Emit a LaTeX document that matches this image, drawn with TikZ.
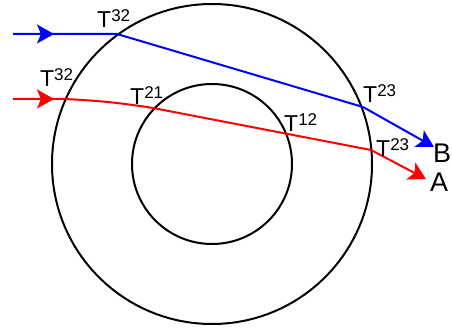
\documentclass[tikz,border=0pt]{standalone}
\usepackage{fontspec}
\setmainfont{Liberation Sans}
\usetikzlibrary{arrows.meta}
\newcommand\Tlab[1]{T\raisebox{6pt}{\fontsize{17}{17}\selectfont #1}}
\tikzset{
  ring/.style={draw=black, line width=2pt},
  ray/.style={line width=2pt, line join=round},
  head/.style={-{Stealth[length=17pt, width=19pt, inset=4pt]}},
  lab/.style={inner sep=0pt, anchor=base west, font=\fontsize{23}{23}\selectfont},
  big/.style={inner sep=0pt, anchor=base west, font=\fontsize{27}{27}\selectfont}
}
\begin{document}
\begin{tikzpicture}[x=1pt, y=-1pt]
\useasboundingbox (0,0) rectangle (452,331);
\coordinate (c) at (212,164);
\draw[ring] (c) circle (160pt);
\draw[ring] (c) circle (80pt);
% blue ray
\coordinate (b0) at (13,34);
\coordinate (bm) at (54,34);
\coordinate (b1) at (117,34);
\coordinate (b2) at (363,107);
\coordinate (b3) at (434,147);
\draw[ray, blue] (b0) -- (b1) -- (b2);
\draw[ray, blue, head] (b2) -- (b3);
\draw[ray, blue, head] (b0) -- (bm);
% red ray
\coordinate (r0) at (13,99);
\coordinate (rm) at (54,99);
\coordinate (r1) at (65,99);
\coordinate (r2) at (153,108);
\coordinate (r3) at (288,134);
\coordinate (r4) at (371,150);
\coordinate (r5) at (426,179);
\draw[ray, red] (r0) -- (r1) to[bend left=3] (r2) -- (r3) -- (r4);
\draw[ray, red, head] (r4) -- (r5);
\draw[ray, red, head] (r0) -- (rm);
% labels
\node[lab] (t32a) at (97,28) {\Tlab{32}};
\node[lab] (t32b) at (40,87) {\Tlab{32}};
\node[lab] (t21) at (130,105) {\Tlab{21}};
\node[lab] (t12) at (284,132) {\Tlab{12}};
\node[lab] (t23a) at (363,103) {\Tlab{23}};
\node[lab] (t23b) at (376,157) {\Tlab{23}};
\node[big] (B) at (433,163) {B};
\node[big] (A) at (430,191) {A};
\end{tikzpicture}
\end{document}
